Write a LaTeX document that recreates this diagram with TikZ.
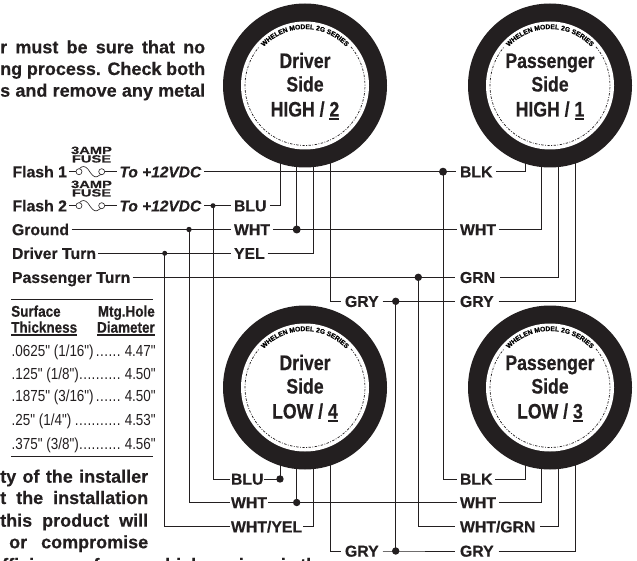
\documentclass[tikz,border=0pt]{standalone}
\usepackage{fontspec}
\usetikzlibrary{decorations.text}
\setmainfont{Liberation Sans}[BoldFeatures={FakeBold=0.35},BoldItalicFeatures={FakeBold=0.35}]
\newfontfamily\lampfont[FakeStretch=0.84,BoldFeatures={FakeBold=0.45}]{Liberation Sans}
\newfontfamily\headfont[FakeStretch=0.87,BoldFeatures={FakeBold=0.35}]{Liberation Sans}
\newfontfamily\rowfont[FakeStretch=0.84]{Liberation Sans}
\newfontfamily\fusefont[FakeStretch=1.4,BoldFeatures={FakeBold=0.35}]{Liberation Sans}
\definecolor{ink}{HTML}{231F20}
\newcommand\ringfont{\fontsize{6.7}{8}\bfseries\selectfont}
\newcommand\ulnum[1]{\leavevmode\setbox0\hbox{#1}\rlap{\color{ink}\vrule width \wd0 height -1.6pt depth 3.2pt}\box0}
\newcommand\tabdots{\leaders\hbox to 4.2pt{\hss.\hss}\hfill}
\tikzset{
  wire/.style={draw=ink,line width=1pt},
  fine/.style={draw=ink,line width=0.6pt},
  lab/.style={anchor=west,inner sep=0pt,outer ysep=0pt,outer xsep=#1,text=ink,text height=11.3pt,text depth=0pt,font=\fontsize{15.8}{18}\bfseries\selectfont},
  lab/.default=2.5pt,
  vdc/.style={lab=3pt,font=\fontsize{15.5}{18}\bfseries\itshape\selectfont},
  para/.style={anchor=base west,inner sep=0pt,text=ink,font=\fontsize{18}{20}\bfseries\selectfont},
  head/.style={inner sep=0pt,text=ink,font=\headfont\fontsize{15.5}{17}\bfseries\selectfont},
  row/.style={anchor=base west,inner sep=0pt,text=ink,font=\rowfont\fontsize{16}{17}\selectfont},
  fuselab/.style={anchor=base,inner sep=0pt,text=ink,font=\fusefont\fontsize{10.5}{11}\bfseries\selectfont},
  dot/.style={circle,fill=ink,inner sep=0pt,minimum size=2*#1},
  lampbody/.style={circle,fill=ink,inner sep=0pt,minimum size=164pt},
  lampface/.style={circle,fill=white,inner sep=0pt,minimum size=128pt},
  lamptext/.style={anchor=base,inner sep=0pt,text=ink,font=\lampfont\fontsize{21}{24}\bfseries\selectfont},
}
\newcommand\lamp[6]{%
  \begin{scope}[shift={(#2,#3)},y=1pt]
    \node[lampbody] (#1) at (0,0) {};
    \node[lampface] (#1f) at (0,0) {};
    \draw[draw=ink,line width=0.7pt,dash pattern=on 2.4pt off 1.5pt on 0.8pt off 1.5pt] (40:60) arc[start angle=40,end angle=-220,radius=60];
    \path[decorate,decoration={text along path,text={|\ringfont|WHELEN MODEL 2G SERIES},text align=center}] (136:56.5) arc[start angle=136,end angle=44,radius=56.5];
    \node[lamptext] (#1a) at (0,17.5) {#4};
    \node[lamptext] (#1b) at (0,-6) {#5};
    \node[lamptext] (#1c) at (0,-31) {#6};
  \end{scope}}
\newcommand\fuse[2]{%
  \coordinate (#1a) at (76,#2);
  \coordinate (#1b) at (104.7,#2);
  \node[fuselab] (#1t) at (91.5,#2-17.7) {3AMP};
  \node[fuselab] (#1u) at (91.5,#2-9.2) {FUSE};
  \draw[fine] (79,#2) circle[radius=3];
  \draw[fine] (101.7,#2) circle[radius=3];
  \draw[fine] (79.5,#2-3) .. controls (82,#2-6) and (85,#2-6) .. (88,#2-2.5) .. controls (91,#2+2) and (94,#2+6.5) .. (97,#2+5) .. controls (99,#2+4) and (100,#2+3) .. (101,#2+2.8);
}
\begin{document}
\begin{tikzpicture}[x=1pt,y=-1pt]
\useasboundingbox (0,0) rectangle (637,561);
\fill[white] (0,0) rectangle (637,561);
\clip (0,0) rectangle (637,561);

% paragraph fragments
\node[para] (p1) at (0,53.3) {\makebox[205pt][s]{r must be sure that no}};
\node[para] (p2) at (0,75) {\makebox[205pt][s]{ng process. Check both}};
\node[para] (p3) at (0,96.7) {\makebox[205pt][s]{s and remove any metal}};
\node[para] (p4) at (0,482.7) {\makebox[148pt][s]{ty of the installer}};
\node[para] (p5) at (0,504) {\makebox[148pt][s]{t the installation}};
\node[para] (p6) at (0,526.7) {\makebox[148pt][s]{this product will}};
\node[para] (p7) at (9,548.3) {\makebox[139pt][s]{or compromise}};
\node[para] (p8) at (-8,571) {\makebox[325pt][s]{efficiency of any vehicle or impair th}};

% table
\coordinate (ruleAl) at (11,299.5); \coordinate (ruleAr) at (153,299.5);
\coordinate (ruleBl) at (11,456.7); \coordinate (ruleBr) at (153,456.7);
\draw[draw=ink,line width=1pt] (ruleAl) -- (ruleAr);
\draw[draw=ink,line width=1pt] (ruleBl) -- (ruleBr);
\node[head,anchor=base west] (h1) at (11,316.7) {Surface};
\node[head,anchor=base west] (h2) at (11,332.7) {\ulnum{Thickness}};
\node[head,anchor=base east] (h3) at (155,316.7) {Mtg.Hole};
\node[head,anchor=base east] (h4) at (155,332.7) {\ulnum{Diameter}};
\node[row] (r1) at (11.5,356.7) {\makebox[144pt][s]{.0625" (1/16")\tabdots 4.47"}};
\node[row] (r2) at (11.5,379.3) {\makebox[144pt][s]{.125" (1/8")\tabdots 4.50"}};
\node[row] (r3) at (11.5,401.7) {\makebox[144pt][s]{.1875" (3/16")\tabdots 4.50"}};
\node[row] (r4) at (11.5,425) {\makebox[144pt][s]{.25" (1/4")\tabdots 4.53"}};
\node[row] (r5) at (11.5,449.3) {\makebox[144pt][s]{.375" (3/8")\tabdots 4.56"}};

% left labels
\node[lab] (flash1) at (10,171.7) {Flash 1};
\node[lab] (flash2) at (10,205.7) {Flash 2};
\node[lab] (gnd) at (9.5,229.5) {Ground};
\node[lab] (drv) at (9.5,253.3) {Driver Turn};
\node[lab] (pas) at (9.5,277.3) {Passenger Turn};
\node[vdc] (vdc1) at (116.5,171.7) {To +12VDC};
\node[vdc] (vdc2) at (116.5,205.7) {To +12VDC};
\fuse{fa}{171.7}
\fuse{fb}{205.7}

% wire labels
\node[lab=3.5pt] (blu1) at (230.5,205.7) {BLU};
\node[lab=3pt] (wht1) at (231,229.5) {WHT};
\node[lab=3pt] (yel) at (231,253.3) {YEL};
\node[lab=4pt] (gry1) at (341,301.3) {GRY};
\node[lab=4pt] (blk1) at (456,171.7) {BLK};
\node[lab=3pt] (wht1r) at (457,229.5) {WHT};
\node[lab=5pt] (grn) at (455,277.3) {GRN};
\node[lab=5pt] (gry1r) at (455,301.3) {GRY};
\node[lab=1pt] (blu2) at (230,479) {BLU};
\node[lab=1pt] (wht2) at (230,502.5) {WHT};
\node[lab=1pt] (wy) at (230,526.7) {WHT/YEL};
\node[lab=3pt] (blk2) at (457,479) {BLK};
\node[lab=3pt] (wht2r) at (457,502.5) {WHT};
\node[lab=5pt] (wg) at (455,526.7) {WHT/GRN};
\node[lab=4pt] (gry2) at (341,551) {GRY};
\node[lab=5pt] (gry2r) at (455,551) {GRY};

% junction dots
\node[dot=4pt] (dBlk) at (443,171.7) {};
\node[dot=2.5pt] (dFl) at (213,205.7) {};
\node[dot=2.7pt] (dGnd) at (189,229.5) {};
\node[dot=2.5pt] (dDrv) at (164.7,253.3) {};
\node[dot=4pt] (dW1) at (296.7,229.5) {};
\node[dot=3.7pt] (dGrn) at (418.3,277.3) {};
\node[dot=3.7pt] (dGry1) at (395.7,301.3) {};
\node[dot=3.7pt] (dGry2) at (395.7,551) {};
\node[dot=3.7pt] (dBlu2) at (280,479) {};
\node[dot=3.7pt] (dW2) at (296.7,502.5) {};

% wire ends hidden under the black rings
\coordinate (t1) at (280,155); \coordinate (t2) at (296.7,155); \coordinate (t3) at (313.7,155); \coordinate (t4) at (330,155);
\coordinate (u1) at (525,155); \coordinate (u2) at (541.7,155); \coordinate (u3) at (558.3,155); \coordinate (u4) at (575,155);
\coordinate (b1) at (280,457.5); \coordinate (b2) at (296.7,457.5); \coordinate (b3) at (313.7,457.5); \coordinate (b4) at (330,457.5);
\coordinate (c1) at (525,457.5); \coordinate (c2) at (541.7,457.5); \coordinate (c3) at (558.3,457.5); \coordinate (c4) at (575,457.5);

% wires
\draw[wire] (flash1.east) -- (faa);
\draw[wire] (fab) -- (vdc1.west);
\draw[wire] (flash2.east) -- (fba);
\draw[wire] (fbb) -- (vdc2.west);
\draw[wire] (vdc1.east) -- (dBlk.center) -- (blk1.west);
\draw[wire] (blk1.east) -| (u1);
\draw[wire] (vdc2.east) -- (dFl.center) -- (blu1.west);
\draw[wire] (blu1.east) -| (t1);
\draw[wire] (gnd.east) -- (dGnd.center) -- (wht1.west);
\draw[wire] (wht1.east) -- (dW1.center) -- (wht1r.west);
\draw[wire] (dW1.center) -- (t2);
\draw[wire] (wht1r.east) -| (u2);
\draw[wire] (drv.east) -- (dDrv.center) -- (yel.west);
\draw[wire] (yel.east) -| (t3);
\draw[wire] (pas.east) -- (dGrn.center) -- (grn.west);
\draw[wire] (grn.east) -| (u3);
\draw[wire] (t4) |- (gry1.west);
\draw[wire] (gry1.east) -- (dGry1.center) -- (gry1r.west);
\draw[wire] (gry1r.east) -| (u4);
\draw[wire] (dFl.center) |- (blu2.west);
\draw[wire] (blu2.east) -- (dBlu2.center) -- (b1);
\draw[wire] (dGnd.center) |- (wht2.west);
\draw[wire] (wht2.east) -- (dW2.center) -- (wht2r.west);
\draw[wire] (dW2.center) -- (b2);
\draw[wire] (dDrv.center) |- (wy.west);
\draw[wire] (wy.east) -| (b3);
\draw[wire] (b4) |- (gry2.west);
\draw[wire] (gry2.east) -- (dGry2.center) -- (gry2r.west);
\draw[wire] (gry2r.east) -| (c4);
\draw[wire] (dBlk.center) |- (blk2.west);
\draw[wire] (blk2.east) -| (c1);
\draw[wire] (wht2r.east) -| (c2);
\draw[wire] (dGrn.center) |- (wg.west);
\draw[wire] (wg.east) -| (c3);
\draw[wire] (dGry1.center) -- (dGry2.center);

% lamps
\lamp{lA}{305}{85.5}{Driver}{Side}{HIGH / \ulnum{2}}
\lamp{lB}{550}{85.5}{Passenger}{Side}{HIGH / \ulnum{1}}
\lamp{lC}{305}{387.5}{Driver}{Side}{LOW / \ulnum{4}}
\lamp{lD}{550}{387.5}{Passenger}{Side}{LOW / \ulnum{3}}
\end{tikzpicture}
\end{document}
